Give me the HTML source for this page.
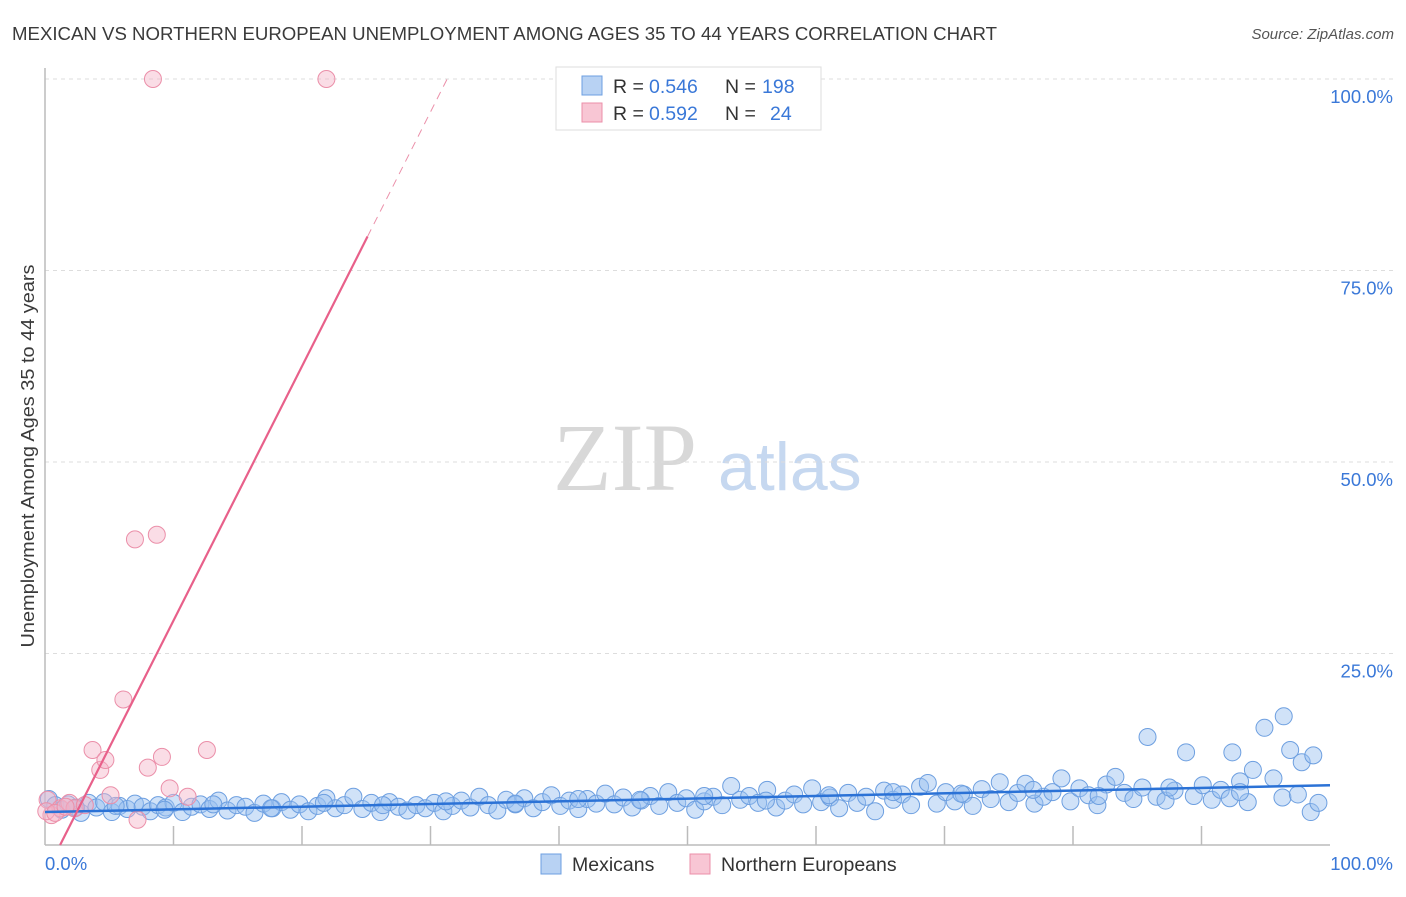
<!DOCTYPE html>
<html><head><meta charset="utf-8"><style>
body{margin:0;background:#fff;font-family:"Liberation Sans",sans-serif}
</style></head><body>
<svg id="chart" width="1406" height="892" xmlns="http://www.w3.org/2000/svg">
<text x="12" y="40" font-size="18" fill="#3a3a3a" textLength="985" lengthAdjust="spacingAndGlyphs">MEXICAN VS NORTHERN EUROPEAN UNEMPLOYMENT AMONG AGES 35 TO 44 YEARS CORRELATION CHART</text>
<text x="1394" y="39" font-size="15" fill="#555" font-style="italic" text-anchor="end">Source: ZipAtlas.com</text>
<text x="34" y="456" font-size="18" fill="#3a3a3a" text-anchor="middle" textLength="383" lengthAdjust="spacingAndGlyphs" transform="rotate(-90 34 456)">Unemployment Among Ages 35 to 44 years</text>
<text x="553" y="490" font-size="96" fill="#d8d8d8" font-family="Liberation Serif,serif">ZIP</text>
<text x="718" y="490" font-size="68" fill="#c6d8f0">atlas</text>
<g id="grid"></g><g id="axes"></g><g id="pts"></g><g id="lines"></g>
<rect x="556" y="67" width="265" height="63" fill="#fff" stroke="#ddd"/>
<rect x="582" y="76" width="20" height="19" fill="#b8d2f3" stroke="#6d9fe0"/>
<rect x="582" y="103" width="20" height="19" fill="#f8c6d4" stroke="#eb8fa9"/>
<g font-size="19.5">
<text x="613" y="93" fill="#333">R =</text><text x="649" y="93" fill="#3a78d8">0.546</text>
<text x="725" y="93" fill="#333">N =</text><text x="762" y="93" fill="#3a78d8">198</text>
<text x="613" y="120" fill="#333">R =</text><text x="649" y="120" fill="#3a78d8">0.592</text>
<text x="725" y="120" fill="#333">N =</text><text x="770" y="120" fill="#3a78d8">24</text>
</g>
<rect x="541" y="854" width="20" height="20" fill="#b8d2f3" stroke="#6d9fe0"/>
<text x="572" y="871" font-size="19.5" fill="#333">Mexicans</text>
<rect x="690" y="854" width="20" height="20" fill="#f8c6d4" stroke="#eb8fa9"/>
<text x="721" y="871" font-size="19.5" fill="#333">Northern Europeans</text>
</svg>
<script>
const yTicks=[25,50,75,100];
const yTickLabels=["25.0%","50.0%","75.0%","100.0%"];
const xTickLabels=["0.0%","100.0%"];
const blueX=[0.3,0.8,1.3,1.8,2.3,2.8,3.4,4.0,4.6,5.2,
5.8,6.4,7.0,7.6,8.2,8.8,9.4,10.0,10.7,11.4,
12.1,12.8,13.5,14.2,14.9,15.6,16.3,17.0,17.7,18.4,
19.1,19.8,20.5,21.2,21.9,22.6,23.3,24.0,24.7,25.4,
26.1,26.8,27.5,28.2,28.9,29.6,30.3,31.0,31.7,32.4,
33.1,33.8,34.5,35.2,35.9,36.6,37.3,38.0,38.7,39.4,
40.1,40.8,41.5,42.2,42.9,43.6,44.3,45.0,45.7,46.4,
47.1,47.8,48.5,49.2,49.9,50.6,51.3,52.0,52.7,53.4,
54.1,54.8,55.5,56.2,56.9,57.6,58.3,59.0,59.7,60.4,
61.1,61.8,62.5,63.2,63.9,64.6,65.3,66.0,66.7,67.4,
68.1,68.7,69.4,70.1,70.8,71.5,72.2,72.9,73.6,74.3,
75.0,75.7,76.3,77.0,77.7,78.4,79.1,79.8,80.5,81.2,
81.9,82.6,83.3,84.0,84.7,85.4,85.8,86.5,87.2,87.9,
88.8,89.4,90.1,90.8,91.5,92.2,92.4,93.0,93.6,94.0,
94.9,95.6,96.3,96.4,96.9,97.5,97.8,98.5,98.7,99.1,
2.4,5.5,9.3,13.1,17.6,21.7,26.3,31.2,36.6,41.5,
46.3,51.3,56.1,61.0,66.0,71.3,76.9,82.0,87.5,93.0];
const blueY=[6.0,5.2,4.6,5.3,4.8,4.2,5.5,4.9,5.6,4.3,
5.1,4.7,5.4,5.0,4.4,5.2,4.9,5.5,4.3,5.0,
5.3,4.7,5.8,4.5,5.2,5.0,4.2,5.4,4.8,5.6,
4.6,5.3,4.4,5.1,6.1,4.8,5.2,6.3,4.7,5.5,
4.3,5.6,5.0,4.5,5.2,4.8,5.5,4.4,5.1,5.8,
4.9,6.3,5.2,4.5,5.9,5.3,6.1,4.8,5.6,6.5,
5.1,5.8,4.7,6.0,5.4,6.7,5.3,6.2,4.9,5.8,
6.4,5.1,6.9,5.5,6.1,4.6,5.7,6.3,5.2,7.7,
5.9,6.4,5.5,7.2,4.9,5.8,6.6,5.3,7.4,5.6,
6.2,4.8,6.8,5.5,6.3,4.4,7.1,5.9,6.6,5.2,
7.6,8.1,5.4,6.9,5.7,6.6,5.1,7.3,6.0,8.2,
5.6,6.8,8.0,5.4,6.3,6.9,8.7,5.7,7.4,6.5,
5.2,7.9,8.9,6.8,6.0,7.5,14.1,6.3,5.8,7.1,
12.1,6.4,7.8,5.9,7.2,6.1,12.1,8.3,5.6,9.8,
15.3,8.7,6.2,16.8,12.4,6.6,10.8,4.3,11.7,5.5,
4.9,5.1,4.6,5.3,4.8,5.5,5.2,5.7,5.4,6.0,
5.9,6.4,5.8,6.5,6.9,6.7,7.2,6.4,7.5,6.9];
const pinkX=[0.2,0.5,1.2,1.9,2.3,3.7,4.3,4.7,5.1,6.1,7,7.2,8,8.7,9.1,9.7,11.1,12.6,8.4,21.9,0.1,0.8,1.6,3.1];
const pinkY=[5.9,3.9,4.8,5.5,4.8,12.4,9.8,11.1,6.5,19,39.9,3.3,10.1,40.5,11.5,7.4,6.3,12.4,100,100,4.4,4.2,5,5.2];
const blueTrend=[4.3,7.8];
const pinkTrend=[-3.9,3.32];
const NS="http://www.w3.org/2000/svg";
const X0=45,X1=1330,Y0=845,Y100=79;
const sx=v=>X0+(X1-X0)*v/100, sy=v=>Y0-(Y0-Y100)*v/100;
function mk(t,a,p){const e=document.createElementNS(NS,t);for(const k in a)e.setAttribute(k,a[k]);document.getElementById(p).appendChild(e);return e;}
yTicks.forEach((t,i)=>{
 const l=mk('line',{x1:X0,x2:1394,y1:sy(t),y2:sy(t),stroke:'#ddd','stroke-dasharray':'4,4'},'grid');
 
 
 const tx=mk('text',{x:1393,y:sy(t)+24,'font-size':18.5,fill:'#3a78d8','text-anchor':'end'},'grid');
 tx.textContent=yTickLabels[i];
 
 
});
let a=mk('line',{x1:X0,x2:X0,y1:68,y2:Y0,stroke:'#bbb','stroke-width':1.5},'axes');


a=mk('line',{x1:X0,x2:X1,y1:Y0,y2:Y0,stroke:'#bbb','stroke-width':1.5},'axes');


for(let i=1;i<10;i++){const t=mk('line',{x1:sx(i*10),x2:sx(i*10),y1:Y0,y2:Y0-19,stroke:'#bbb','stroke-width':1.5},'axes');
 
 }
[[0,'start',X0],[1,'end',1393]].forEach(([i,an,x])=>{const t=mk('text',{x:x,y:870,'font-size':18.5,fill:'#3a78d8','text-anchor':an},'axes');t.textContent=xTickLabels[i];
 
 });
blueX.forEach((x,i)=>{const c=mk('circle',{cx:sx(x),cy:sy(blueY[i]),r:8.5,fill:'rgba(150,190,240,0.45)',stroke:'#6d9fe0','stroke-width':1},'pts');
 
 });
pinkX.forEach((x,i)=>{const c=mk('circle',{cx:sx(x),cy:sy(pinkY[i]),r:8.5,fill:'rgba(245,180,200,0.45)',stroke:'#eb8fa9','stroke-width':1},'pts');
 
 });
let ln=mk('line',{x1:sx(0),y1:sy(blueTrend[0]),x2:sx(100),y2:sy(blueTrend[1]),stroke:'#2b72d6','stroke-width':2.5},'lines');


const pf=x=>pinkTrend[0]+pinkTrend[1]*x;
const xs=-pinkTrend[0]/pinkTrend[1], xm=25.1, xe=(100-pinkTrend[0])/pinkTrend[1];
ln=mk('line',{x1:sx(xs),y1:sy(pf(xs)),x2:sx(xm),y2:sy(pf(xm)),stroke:'#e8608a','stroke-width':2.2},'lines');


ln=mk('line',{x1:sx(xm),y1:sy(pf(xm)),x2:sx(xe),y2:sy(pf(xe)),stroke:'#eb8fa9','stroke-width':1,'stroke-dasharray':'8,6'},'lines');


</script>
</body></html>
